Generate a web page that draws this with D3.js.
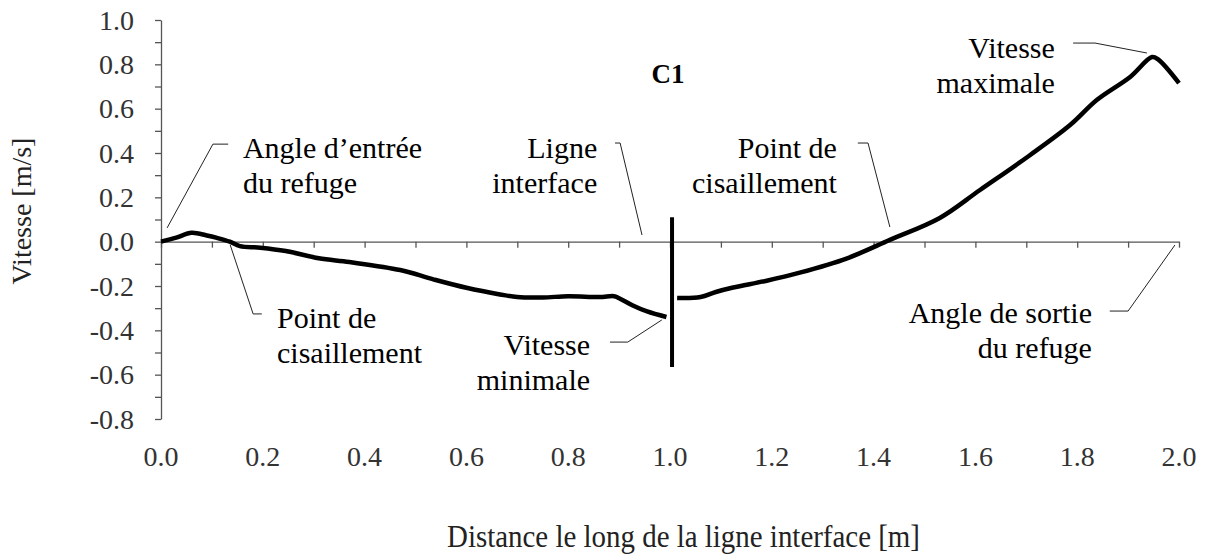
<!doctype html>
<head>
  <script src="https://cdnjs.cloudflare.com/ajax/libs/d3/7.8.5/d3.min.js"></script>
  <style>
    body { margin: 0; background: #fff; }
    svg { display: block; }
  </style>
</head>
<body>
  <svg class="chart" width="1209" height="554"></svg>
  <script type="text/javascript">
    // velocity along the interface line, left of the interface and right of it
    var leftSegment = [
      [0.00, 0.000], [0.03, 0.018], [0.06, 0.040], [0.09, 0.028], [0.11, 0.017],
      [0.135, 0.000], [0.155, -0.020], [0.195, -0.027], [0.245, -0.042], [0.31, -0.075],
      [0.37, -0.092], [0.47, -0.128], [0.535, -0.170], [0.60, -0.208], [0.666, -0.238],
      [0.70, -0.250], [0.75, -0.252], [0.80, -0.246], [0.862, -0.250], [0.89, -0.246],
      [0.90, -0.255], [0.927, -0.288], [0.955, -0.315], [0.993, -0.340]
    ]
    var rightSegment = [
      [1.014, -0.254], [1.06, -0.250], [1.09, -0.227], [1.124, -0.207], [1.19, -0.176],
      [1.255, -0.140], [1.348, -0.075], [1.432, 0.008], [1.53, 0.107], [1.609, 0.233],
      [1.707, 0.390], [1.786, 0.526], [1.839, 0.640], [1.904, 0.743], [1.947, 0.833],
      [1.959, 0.822], [2.00, 0.715]
    ]
    var interfaceX = 1.004
    var interfaceSpan = [0.11, -0.565]

    var xTickValues = d3.range(0, 2.0001, 0.1)
    var xLabelValues = [0.0, 0.2, 0.4, 0.6, 0.8, 1.0, 1.2, 1.4, 1.6, 1.8, 2.0]
    var yTickValues = d3.range(-0.8, 1.0001, 0.1)
    var yLabelValues = [-0.8, -0.6, -0.4, -0.2, 0.0, 0.2, 0.4, 0.6, 0.8, 1.0]

    var chartTitle = "C1"
    var xTitle = "Distance le long de la ligne interface [m]"
    var yTitle = "Vitesse [m/s]"

    // call-outs: text lines, text anchor (data units), leader points (data units)
    var annotations = [
      { lines: ["Angle d’entrée", "du refuge"], at: [0.161, 0.379], anchor: "start",
        leader: [[0.132, 0.44], [0.102, 0.44], [0.012, 0.062]] },
      { lines: ["Point de", "cisaillement"], at: [0.228, -0.389], anchor: "start",
        leader: [[0.136, -0.015], [0.181, -0.326], [0.198, -0.326]] },
      { lines: ["Ligne", "interface"], at: [0.857, 0.379], anchor: "end",
        leader: [[0.892, 0.445], [0.902, 0.445], [0.945, 0.030]] },
      { lines: ["Vitesse", "minimale"], at: [0.843, -0.511], anchor: "end",
        leader: [[0.882, -0.453], [0.917, -0.453], [0.984, -0.353]] },
      { lines: ["Point de", "cisaillement"], at: [1.328, 0.379], anchor: "end",
        leader: [[1.369, 0.445], [1.389, 0.445], [1.432, 0.066]] },
      { lines: ["Vitesse", "maximale"], at: [1.756, 0.829], anchor: "end",
        leader: [[1.792, 0.896], [1.835, 0.896], [1.937, 0.851]] },
      { lines: ["Angle de sortie", "du refuge"], at: [1.829, -0.367], anchor: "end",
        leader: [[1.864, -0.313], [1.900, -0.313], [1.992, -0.015]] }
    ]

    var serif = "'Liberation Serif', 'Times New Roman', serif"
    var svg = d3.select("svg")
    var x = d3.scaleLinear().domain([0, 2]).range([161, 1179])
    var y = d3.scaleLinear().domain([-0.8, 1.0]).range([419, 20])
    var fmt = v => d3.format(".1f")(Math.abs(v) < 1e-9 ? 0 : v).replace("−", "-")

    // x axis sits on zero, ticks downward, labels at the bottom
    var xAxis = svg.append("g")
      .attr("transform", "translate(0," + y(0) + ")")
      .call(d3.axisBottom(x).tickValues(xTickValues).tickSize(6).tickSizeOuter(0).tickFormat(""))
    xAxis.select(".domain").attr("stroke", "#555").attr("stroke-width", 1.3)
    xAxis.selectAll(".tick line").attr("stroke", "#555").attr("stroke-width", 1.3)

    svg.append("g").selectAll("text")
      .data(xLabelValues)
      .enter()
      .append("text")
      .attr("x", d => x(d))
      .attr("y", 466)
      .attr("text-anchor", "middle")
      .attr("font-size", 28)
      .attr("fill", "#333")
      .style("font-family", serif)
      .text(d => fmt(d))

    var yAxis = svg.append("g")
      .attr("transform", "translate(" + x(0) + ",0)")
      .call(d3.axisLeft(y).tickValues(yTickValues).tickSize(6).tickSizeOuter(0).tickFormat(""))
    yAxis.select(".domain").attr("stroke", "#555").attr("stroke-width", 1.3)
    yAxis.selectAll(".tick line").attr("stroke", "#555").attr("stroke-width", 1.3)

    svg.append("g").selectAll("text")
      .data(yLabelValues)
      .enter()
      .append("text")
      .attr("x", 134)
      .attr("y", d => y(d) + 9.5)
      .attr("text-anchor", "end")
      .attr("font-size", 28)
      .attr("fill", "#333")
      .style("font-family", serif)
      .text(d => fmt(d))

    // curves
    var line = d3.line().x(d => x(d[0])).y(d => y(d[1])).curve(d3.curveCatmullRom.alpha(0.5))
    svg.selectAll("path.curve")
      .data([leftSegment, rightSegment])
      .enter()
      .append("path")
      .attr("class", "curve")
      .attr("d", line)
      .attr("fill", "none")
      .attr("stroke", "#000")
      .attr("stroke-width", 4.5)
      .attr("stroke-linejoin", "round")

    svg.append("line")
      .attr("x1", x(interfaceX)).attr("x2", x(interfaceX))
      .attr("y1", y(interfaceSpan[0])).attr("y2", y(interfaceSpan[1]))
      .attr("stroke", "#000")
      .attr("stroke-width", 4)

    // annotations
    var leader = d3.line().x(d => x(d[0])).y(d => y(d[1]))
    var ann = svg.append("g").selectAll("g")
      .data(annotations)
      .enter()
      .append("g")
    ann.append("path")
      .attr("d", d => leader(d.leader))
      .attr("fill", "none")
      .attr("stroke", "#222")
      .attr("stroke-width", 1)
    ann.append("text")
      .attr("font-size", 30)
      .attr("fill", "#000")
      .style("font-family", serif)
      .attr("text-anchor", d => d.anchor)
      .each(function (d) {
        d3.select(this).selectAll("tspan")
          .data(d.lines)
          .enter()
          .append("tspan")
          .attr("x", x(d.at[0]))
          .attr("y", (l, i) => y(d.at[1]) + i * 35)
          .text(l => l)
      })

    svg.append("text")
      .attr("x", x(0.996))
      .attr("y", y(0.715))
      .attr("text-anchor", "middle")
      .attr("font-size", 27)
      .attr("font-weight", "bold")
      .style("font-family", serif)
      .text(chartTitle)

    svg.append("text")
      .attr("x", 447)
      .attr("y", 547)
      .attr("font-size", 31)
      .attr("fill", "#222")
      .attr("textLength", 473)
      .attr("lengthAdjust", "spacingAndGlyphs")
      .style("font-family", serif)
      .text(xTitle)

    svg.append("text")
      .attr("transform", "translate(31,211) rotate(-90)")
      .attr("text-anchor", "middle")
      .attr("font-size", 28)
      .attr("fill", "#222")
      .style("font-family", serif)
      .text(yTitle)
  </script>
</body>
</html>
